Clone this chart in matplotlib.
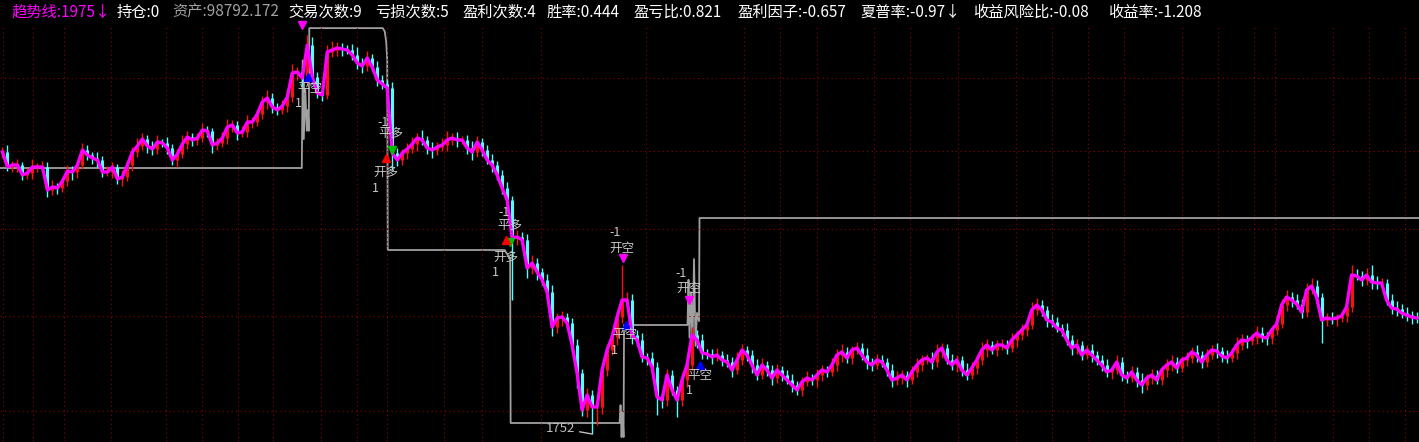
import matplotlib
matplotlib.use("Agg")
import matplotlib.pyplot as plt

plt.rcParams['font.family'] = ['Noto Sans CJK SC', 'DejaVu Sans']

# closing price, one value per bar
close = [
    2316, 2286, 2290, 2290, 2270, 2274, 2286, 2286, 2286, 2240, 2246, 2244, 2258, 2278, 2276, 2290, 2320, 2310, 2304, 2300,
    2276, 2276, 2286, 2262, 2266, 2290, 2316, 2328, 2342, 2328, 2322, 2336, 2334, 2324, 2300, 2312, 2332, 2346, 2340, 2344,
    2360, 2358, 2330, 2334, 2344, 2366, 2370, 2354, 2356, 2376, 2376, 2392, 2416, 2424, 2406, 2400, 2408, 2426, 2474, 2476,
    2464, 2530, 2466, 2434, 2430, 2516, 2520, 2524, 2522, 2520, 2510, 2494, 2488, 2504, 2486, 2460, 2452, 2444, 2314, 2300,
    2314, 2322, 2332, 2344, 2340, 2324, 2320, 2326, 2330, 2340, 2344, 2340, 2340, 2324, 2316, 2336, 2320, 2300, 2290, 2270,
    2244, 2220, 2144, 2146, 2140, 2084, 2094, 2076, 2060, 2036, 1966, 1984, 1986, 1974, 1930, 1874, 1800, 1830, 1806, 1806,
    1880, 1920, 1946, 1986, 2020, 2020, 1950, 1940, 1906, 1904, 1886, 1826, 1820, 1870, 1840, 1820, 1860, 1890, 1950, 1940,
    1914, 1912, 1906, 1910, 1900, 1896, 1880, 1900, 1920, 1910, 1890, 1870, 1890, 1880, 1864, 1880, 1870, 1860, 1850, 1840,
    1856, 1864, 1860, 1870, 1880, 1876, 1890, 1910, 1916, 1904, 1920, 1924, 1910, 1896, 1890, 1900, 1896, 1880, 1860, 1864,
    1870, 1860, 1876, 1890, 1900, 1904, 1896, 1916, 1924, 1900, 1890, 1900, 1880, 1870, 1884, 1900, 1920, 1930, 1920, 1930,
    1930, 1924, 1940, 1950, 1960, 1970, 2000, 2010, 2000, 1980, 1976, 1964, 1960, 1940, 1924, 1930, 1910, 1920, 1910, 1900,
    1890, 1876, 1880, 1896, 1870, 1864, 1876, 1860, 1850, 1864, 1870, 1860, 1880, 1890, 1896, 1884, 1900, 1904, 1916, 1910,
    1896, 1910, 1920, 1918, 1908, 1904, 1914, 1930, 1940, 1938, 1944, 1954, 1946, 1944, 1960, 1972, 2010, 2026, 2020, 2012,
    1996, 2040, 2048, 2026, 1980, 1984, 1982, 1984, 1988, 2006, 2070, 2068, 2060, 2070, 2056, 2054, 2054, 2020, 2004, 2002,
    1994, 1990, 1986, 1984,
]

# upper / lower shadow length beyond the candle body (price units)
wick_hi = [
    10, 14, 8, 12, 6, 10, 16, 8, 12, 10, 14, 8, 6, 12, 10, 8, 14, 10, 6, 12,
    8, 12, 10, 6, 14, 8, 10, 16, 12, 8, 10, 14, 6, 12, 8, 10, 18, 12, 8, 10,
    14, 8, 6, 10, 12, 16, 10, 8, 12, 14, 10, 8, 12, 16, 10, 8, 12, 14, 18, 10,
    12, 20, 16, 10, 8, 14, 18, 12, 10, 8, 12, 16, 10, 14, 8, 12, 10, 8, 12, 10,
    8, 12, 14, 10, 16, 8, 12, 10, 14, 18, 10, 12, 8, 10, 14, 12, 8, 10, 12, 8,
    10, 12, 8, 14, 10, 12, 16, 10, 8, 12, 14, 10, 12, 8, 10, 12, 8, 14, 10, 12,
    10, 12, 14, 10, 70, 16, 12, 10, 14, 8, 12, 10, 8, 12, 10, 8, 14, 12, 16, 10,
    12, 8, 10, 14, 8, 12, 10, 16, 12, 8, 10, 12, 14, 8, 10, 12, 8, 10, 12, 8,
    10, 14, 8, 12, 10, 8, 14, 12, 16, 10, 8, 12, 10, 14, 8, 12, 10, 8, 12, 14,
    10, 8, 12, 14, 10, 8, 12, 16, 10, 8, 12, 10, 8, 14, 12, 10, 16, 12, 8, 10,
    12, 10, 14, 8, 12, 10, 16, 14, 10, 8, 12, 10, 8, 14, 10, 12, 8, 10, 12, 8,
    10, 12, 8, 14, 10, 8, 12, 10, 14, 8, 12, 10, 8, 12, 14, 10, 8, 12, 10, 14,
    8, 12, 10, 14, 8, 12, 10, 16, 12, 10, 8, 14, 12, 10, 8, 16, 12, 14, 10, 12,
    10, 14, 16, 12, 8, 10, 12, 8, 10, 14, 20, 12, 10, 14, 20, 12, 10, 8, 12, 14,
    10, 12, 8, 10,
]
wick_lo = [
    12, 8, 10, 14, 10, 8, 12, 10, 6, 14, 10, 12, 8, 10, 16, 12, 8, 10, 12, 14,
    10, 8, 12, 10, 14, 8, 12, 10, 8, 14, 12, 10, 8, 12, 10, 14, 8, 10, 12, 10,
    8, 12, 16, 10, 8, 12, 10, 14, 8, 10, 12, 8, 10, 14, 12, 10, 8, 12, 10, 14,
    16, 12, 14, 10, 12, 8, 10, 12, 14, 8, 10, 12, 14, 10, 8, 12, 10, 14, 34, 12,
    10, 12, 8, 14, 10, 12, 16, 10, 8, 12, 10, 14, 8, 12, 16, 10, 12, 8, 14, 10,
    12, 16, 124, 14, 10, 20, 12, 16, 10, 14, 18, 12, 16, 10, 14, 30, 12, 14, 54, 36,
    14, 12, 10, 16, 12, 14, 18, 12, 10, 14, 12, 36, 16, 12, 10, 34, 12, 14, 10, 16,
    12, 10, 14, 8, 12, 10, 14, 8, 10, 12, 16, 10, 8, 12, 14, 10, 12, 8, 14, 10,
    12, 8, 10, 14, 12, 10, 8, 12, 14, 10, 12, 8, 10, 14, 12, 8, 10, 12, 14, 10,
    12, 14, 8, 10, 12, 8, 14, 10, 12, 8, 10, 14, 12, 10, 8, 12, 10, 14, 8, 12,
    10, 12, 8, 14, 10, 12, 8, 10, 12, 14, 10, 8, 12, 10, 14, 12, 10, 8, 14, 10,
    12, 10, 14, 8, 12, 10, 8, 14, 16, 10, 12, 8, 10, 14, 12, 10, 8, 12, 10, 14,
    12, 10, 8, 14, 12, 10, 8, 12, 10, 14, 8, 12, 10, 14, 12, 10, 8, 12, 14, 10,
    12, 10, 8, 14, 46, 12, 10, 14, 8, 12, 10, 8, 12, 10, 14, 12, 8, 10, 12, 14,
    10, 12, 14, 10,
]

# asset curve vertices (bar position, asset value)
equity_bar = [-0.5, 59.9, 60.1, 60.3, 60.6, 60.9, 61.1, 61.3, 61.4, 76.1, 76.5, 76.8, 77.0, 77.1,
              100.5, 101.6, 101.7, 123.5, 123.7, 123.9, 124.1, 124.3, 124.4,
              137.1, 137.3, 137.5, 137.8, 138.1, 138.4, 138.7, 139.0, 139.4, 139.5, 283.5]
equity_val = [100000, 100000, 102600, 100700, 101900, 100900, 101400, 100900, 103380, 103380, 103300, 103044, 102600, 98019,
              98019, 97800, 93839, 93839, 94270, 93500, 94100, 93500, 96207,
              96207, 97300, 95900, 97000, 95700, 97800, 95700, 96500, 96300, 98792, 98792]

# trade signals: (marker, colour, bar, price)
signals = [
    ('v', '#ff00ff', 59.9, 2570), ('^', '#0000ff', 61.1, 2466),
    ('v', '#00c000', 77.9, 2320), ('^', '#ff0000', 76.7, 2304),
    ('v', '#00c000', 101.5, 2136), ('^', '#ff0000', 100.7, 2140),
    ('v', '#ff00ff', 124.1, 2104), ('^', '#0000ff', 124.7, 1970),
    ('v', '#ff00ff', 137.3, 2020), ('^', '#0000ff', 139.5, 1890),
]
signal_text = [
    ('平空', 61.5, 2444), ('1', 59.3, 2414),
    ('-1', 76.1, 2376), ('平多', 77.7, 2354), ('开多', 76.7, 2276), ('1', 74.7, 2244),
    ('-1', 100.3, 2196), ('平多', 101.5, 2170), ('开多', 100.7, 2106), ('1', 98.7, 2076),
    ('-1', 122.7, 2156), ('开空', 123.9, 2124), ('平空', 124.5, 1952), ('1', 122.5, 1920),
    ('-1', 135.9, 2074), ('开空', 137.3, 2044), ('平空', 139.5, 1870), ('1', 137.5, 1840),
]

header_items = ['趋势线:1975↓', '持仓:0', '资产:98792.172', '交易次数:9', '亏损次数:5', '盈利次数:4',
                '胜率:0.444', '盈亏比:0.821', '盈利因子:-0.657', '夏普率:-0.97↓', '收益风险比:-0.08', '收益率:-1.208']
header_colors = ['#ff00ff', 'white', '#a0a0a0'] + ['white'] * 9
header_x = [12, 117, 172, 288, 375, 462, 547, 633, 737, 860, 973, 1108]

hgrid_price = [2464, 2318, 2162, 1988, 1798]
vgrid_bar = [0.1, 6.1, 12.3, 21.7, 32.7, 39.9, 47.1, 54.1, 63.7, 70.9, 77.0, 88.4, 96.0, 107.8,
             128.8, 148.4, 155.6, 163.0, 174.4, 181.6, 191.3, 202.9, 210.1, 217.3, 224.5, 236.1,
             243.3, 250.5, 254.7, 266.3, 273.5, 280.7]


def main():
    W, H, top = 1419, 442, 27
    fig = plt.figure(figsize=(W / 100, H / 100), dpi=100, facecolor='black')
    rect = [0, 0, 1, (H - top) / H]

    # asset curve on its own scale, underneath
    ax_eq = fig.add_axes(rect, label='equity')
    ax_eq.set_facecolor('black')
    ax_eq.plot(equity_bar, equity_val, color='#a0a0a0', lw=1.3)
    ax_eq.set_xlim(-0.5, 283.5)
    ax_eq.set_ylim(93380, 103407)
    ax_eq.axis('off')

    ax = fig.add_axes(rect, label='price')
    ax.patch.set_visible(False)
    ax.set_xlim(-0.5, 283.5)
    ax.set_ylim(1736, 2566)
    ax.axis('off')

    # dotted red grid
    grid_kw = dict(color='#8f0000', lw=0.8, linestyle=(0, (1, 3)), zorder=0)
    for p in hgrid_price:
        ax.axhline(p, **grid_kw)
    for b in vgrid_bar:
        ax.axvline(b, **grid_kw)

    # candles
    x = list(range(len(close)))
    opn = [close[0]] + close[:-1]
    hi = [max(o, c) + w for o, c, w in zip(opn, close, wick_hi)]
    lo = [min(o, c) - w for o, c, w in zip(opn, close, wick_lo)]
    cols = ['#ff1010' if c >= o else '#50ffff' for o, c in zip(opn, close)]
    ax.vlines(x, lo, hi, colors=cols, lw=1.0, zorder=2)
    ax.vlines(x, [min(o, c) for o, c in zip(opn, close)], [max(o, c) for o, c in zip(opn, close)],
              colors=cols, lw=2.2, zorder=2)

    # trend line
    ax.plot(x, close, color='#ff00ff', lw=2.4, zorder=3)

    # lowest low label
    i_min = min(range(len(lo)), key=lambda i: lo[i])
    ax.annotate(f'{lo[i_min]:.0f}', xy=(i_min, lo[i_min]), xytext=(-12, 4), textcoords='offset points',
                ha='right', va='center', color='#c0c0c0', fontsize=9.5, zorder=6,
                arrowprops=dict(arrowstyle='-', color='#c0c0c0', lw=1, shrinkA=1, shrinkB=0))

    # trade signals
    for m, c, b, p in signals:
        ax.plot(b, p, marker=m, color=c, ms=6, mec=c, clip_on=False, zorder=6)
    for s, b, p in signal_text:
        ax.text(b, p, s, color='#c8c8c8', fontsize=9, ha='center', va='center', zorder=7)

    # header line
    for s, c, px in zip(header_items, header_colors, header_x):
        fig.text(px / W, 1 - 12 / H, s, color=c, fontsize=11, ha='left', va='center')

    fig.savefig('out.png', dpi=100, facecolor='black')


if __name__ == "__main__":
    main()
